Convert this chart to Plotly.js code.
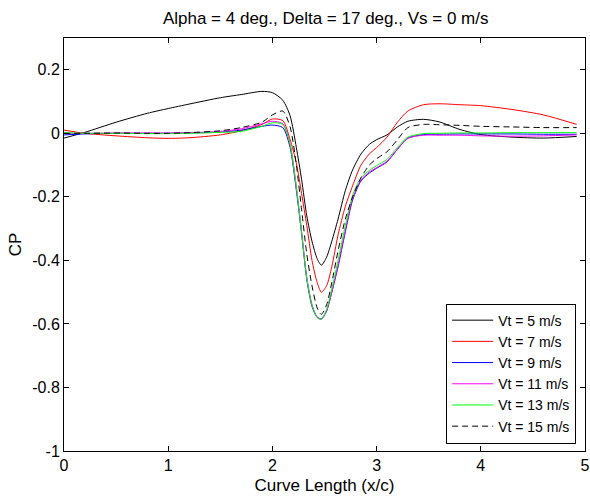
<!DOCTYPE html>
<html>
<head>
<meta charset="utf-8">
<script src="https://cdn.plot.ly/plotly-3.0.1.min.js"></script>
<style>html,body{margin:0;padding:0;background:#fff;}#chart{width:590px;height:496px;}</style>
</head>
<body>
<div id="chart"></div>
<script>
// Curve length positions (x/c)
var xPos = [0, 0.2, 0.5, 0.8, 1.0, 1.2, 1.5, 1.7, 1.9, 2.0, 2.1, 2.17, 2.23, 2.28, 2.33, 2.38, 2.43, 2.47, 2.52, 2.57, 2.63, 2.7, 2.77, 2.85, 2.93, 3.0, 3.1, 3.2, 3.3, 3.45, 3.6, 3.8, 4.0, 4.3, 4.6, 4.92];

var cpVt5  = [-0.015, 0.003, 0.035, 0.063, 0.078, 0.092, 0.112, 0.122, 0.132, 0.128, 0.104, 0.055, -0.045, -0.145, -0.26, -0.34, -0.395, -0.415, -0.39, -0.34, -0.27, -0.18, -0.115, -0.065, -0.035, -0.02, -0.005, 0.02, 0.038, 0.044, 0.036, 0.012, -0.004, -0.012, -0.015, -0.01];
var cpVt7  = [0.01, 0.0, -0.008, -0.014, -0.016, -0.014, -0.005, 0.008, 0.028, 0.045, 0.04, -0.02, -0.094, -0.19, -0.29, -0.4, -0.47, -0.5, -0.48, -0.42, -0.32, -0.23, -0.165, -0.1, -0.065, -0.045, -0.012, 0.035, 0.07, 0.09, 0.093, 0.09, 0.087, 0.075, 0.058, 0.028];
var cpVt9  = [-0.005, -0.002, 0.0, 0.0, 0.0, 0.001, 0.004, 0.01, 0.022, 0.026, 0.018, -0.045, -0.18, -0.315, -0.46, -0.545, -0.58, -0.585, -0.56, -0.5, -0.42, -0.31, -0.21, -0.15, -0.125, -0.11, -0.09, -0.05, -0.015, -0.004, -0.003, -0.002, -0.002, -0.002, -0.003, -0.003];
var cpVt11 = [0.0, 0.0, 0.001, 0.001, 0.001, 0.002, 0.006, 0.014, 0.03, 0.038, 0.03, -0.035, -0.17, -0.31, -0.455, -0.54, -0.578, -0.583, -0.558, -0.5, -0.415, -0.305, -0.205, -0.147, -0.122, -0.108, -0.088, -0.05, -0.016, -0.006, -0.006, -0.006, -0.008, -0.009, -0.008, -0.005];
var cpVt13 = [0.002, 0.0, 0.0, -0.001, -0.001, 0.0, 0.003, 0.006, 0.022, 0.033, 0.028, -0.035, -0.17, -0.31, -0.455, -0.54, -0.58, -0.585, -0.555, -0.49, -0.4, -0.29, -0.195, -0.14, -0.117, -0.102, -0.082, -0.045, -0.012, -0.001, 0.0, 0.001, 0.001, 0.002, 0.002, 0.002];
var cpVt15 = [0.0, 0.0, 0.001, 0.0, 0.0, 0.002, 0.008, 0.018, 0.035, 0.058, 0.07, 0.02, -0.1, -0.24, -0.38, -0.48, -0.55, -0.57, -0.54, -0.47, -0.37, -0.27, -0.2, -0.14, -0.1, -0.08, -0.058, -0.02, 0.018, 0.028, 0.027, 0.025, 0.022, 0.02, 0.018, 0.018];

var seriesNames = ['Vt = 5 m/s', 'Vt = 7 m/s', 'Vt = 9 m/s', 'Vt = 11 m/s', 'Vt = 13 m/s', 'Vt = 15 m/s'];
var seriesColors = ['#000000', '#ff0000', '#0000ff', '#ff00ff', '#00ff00', '#000000'];
var seriesDash = ['solid', 'solid', 'solid', 'solid', 'solid', '6px,4px'];
var seriesValues = [cpVt5, cpVt7, cpVt9, cpVt11, cpVt13, cpVt15];

var xTickVals = [0, 1, 2, 3, 4, 5];
var xTickText = ['0', '1', '2', '3', '4', '5'];
var yTickVals = [0.2, 0, -0.2, -0.4, -0.6, -0.8, -1];
var yTickText = ['0.2', '0', '-0.2', '-0.4', '-0.6', '-0.8', '-1'];

var FONT = 'Liberation Sans, Arial, sans-serif';

var traces = seriesValues.map(function (vals, i) {
  return {
    x: xPos, y: vals, type: 'scatter', mode: 'lines', name: seriesNames[i],
    line: {color: seriesColors[i], width: 1, dash: seriesDash[i], shape: 'spline', smoothing: 0.7}
  };
});

var axisCommon = {
  showline: true, linecolor: '#000', linewidth: 1, mirror: 'ticks',
  ticks: 'inside', ticklen: 5, tickcolor: '#000', showgrid: false, zeroline: false,
  tickfont: {family: FONT, size: 16, color: '#000'}, tickmode: 'array'
};

var layout = {
  width: 590, height: 496,
  margin: {l: 64, r: 5, t: 38, b: 45},
  paper_bgcolor: '#fff', plot_bgcolor: '#fff',
  font: {family: FONT, size: 16, color: '#000'},
  title: {text: 'Alpha = 4 deg., Delta = 17 deg., Vs = 0 m/s', font: {family: FONT, size: 17, color: '#000'}, x: 0.552, xanchor: 'center', y: 0.963, yanchor: 'middle'},
  xaxis: Object.assign({}, axisCommon, {range: [0, 5], tickvals: xTickVals, ticktext: xTickText,
    title: {text: 'Curve Length (x/c)', font: {family: FONT, size: 17, color: '#000'}, standoff: 5}}),
  yaxis: Object.assign({}, axisCommon, {range: [-1, 0.3], tickvals: yTickVals, ticktext: yTickText,
    title: {text: 'CP', font: {family: FONT, size: 17, color: '#000'}, standoff: 6}}),
  showlegend: true,
  legend: {x: 0.983, xanchor: 'right', y: 0.018, yanchor: 'bottom', bgcolor: '#fff',
    bordercolor: '#000', borderwidth: 1, font: {family: FONT, size: 14, color: '#000'},
    tracegroupgap: 0, itemwidth: 41}
};

Plotly.newPlot('chart', traces, layout, {displayModeBar: false, staticPlot: true});
</script>
</body>
</html>
